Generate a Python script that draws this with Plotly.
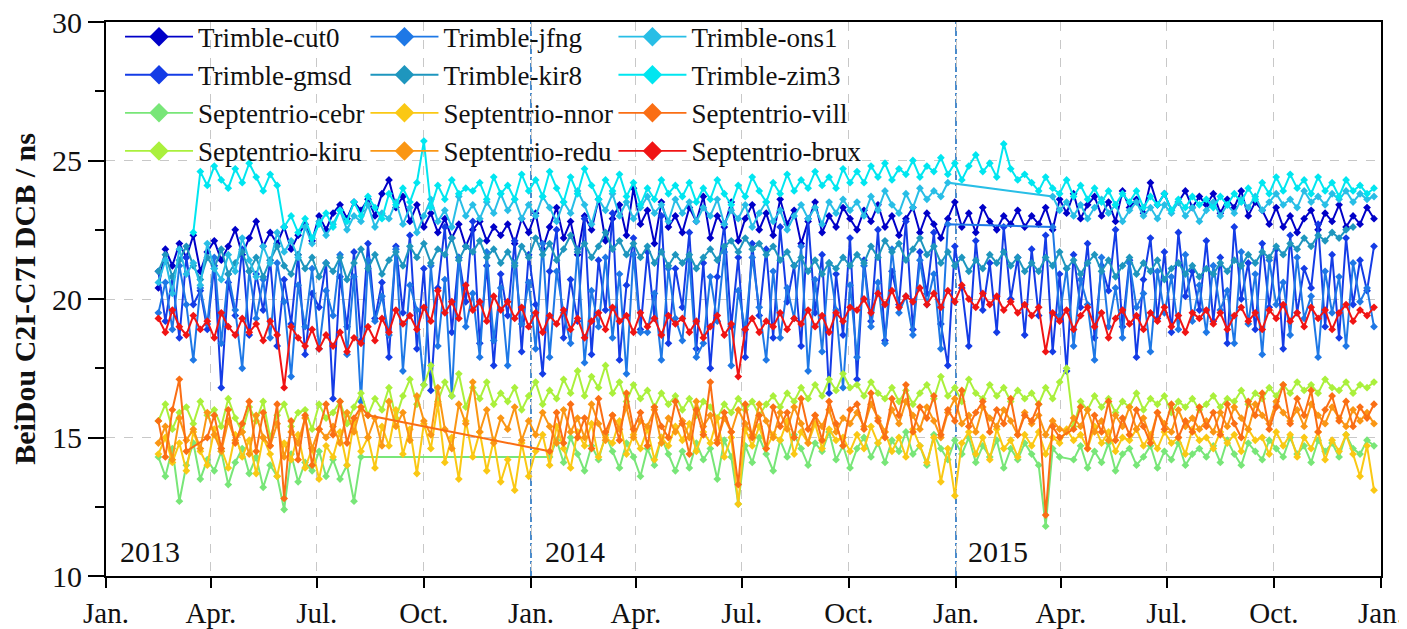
import pandas as pd
import plotly.graph_objects as go

N = None
# sampling: every 6 days from 2013-02-15, rows of 25 samples (150 days each)
start_date = "2013-02-15"
step_days = 6
row_days = 150

tick_dates = ["2013-01-01", "2013-04-01", "2013-07-01", "2013-10-01",
              "2014-01-01", "2014-04-01", "2014-07-01", "2014-10-01",
              "2015-01-01", "2015-04-01", "2015-07-01", "2015-10-01", "2016-01-01"]
tick_text = ["Jan.", "Apr.", "Jul.", "Oct."] * 3 + ["Jan."]
year_labels = ["2013", "2014", "2015"]
year_label_dates = ["2013-01-11", "2014-01-11", "2015-01-10"]
year_sep_dates = ["2014-01-01", "2015-01-01"]

cut0 = [
 [20.4,21.8,21.2,22.0,21.5,22.3,21.0,21.7,22.1,21.4,21.9,22.5,21.6,22.2,22.8,21.9,22.4,22.0,22.6,21.8,22.3,22.7,22.1,23.0,22.5],
 [23.1,23.4,22.9,23.5,23.2,23.6,23.0,23.8,24.3,23.3,23.7,22.8,23.4,22.6,23.1,22.4,22.9,22.2,22.7,21.9,22.5,22.8,22.1,22.6,22.3],
 [22.7,22.0,22.9,22.4,23.1,21.8,22.6,23.3,22.2,22.8,21.6,23.0,22.5,23.6,22.1,22.9,23.4,22.3,24.0,22.7,23.2,22.0,23.5,22.6,23.0],
 [22.4,23.3,22.8,23.7,22.2,23.0,22.6,23.5,22.1,22.9,23.4,22.5,23.1,22.3,23.6,22.7,23.2,22.0,22.8,23.5,22.4,23.0,22.6,23.3,22.9],
 [22.5,23.2,22.8,23.4,22.6,23.0,22.3,22.9,23.3,22.4,23.1,22.7,22.2,22.9,23.5,22.6,23.1,22.4,23.3,22.8,22.5,23.0,22.7,23.2,22.6],
 [23.0,22.7,23.3,22.5,23.6,23.1,23.8,22.9,23.4,23.7,23.0,23.5,22.8,23.9,23.3,23.6,23.1,24.2,23.4,23.8,23.2,23.5,23.9,23.3,23.7],
 [23.4,23.8,23.1,23.6,23.3,23.9,23.0,23.5,23.2,22.7,23.3,22.6,23.0,22.4,22.9,23.2,22.5,23.1,22.8,23.4,22.6,23.0,22.7,23.3,22.9],
]
gmsd = [
 [21.0,19.2,20.8,18.6,21.5,19.8,20.3,18.9,21.2,16.8,20.6,19.4,21.8,18.7,20.9,19.6,21.4,18.3,20.7,19.1,21.6,18.0,20.2,19.7,21.3],
 [16.4,20.8,19.0,21.7,18.5,22.0,19.3,20.6,17.9,21.9,19.5,22.3,18.2,21.1,16.7,20.4,22.6,18.8,21.5,19.9,22.8,18.4,21.2,17.6,20.9],
 [19.4,22.1,18.1,21.6,19.8,17.3,21.0,22.5,18.6,20.7,19.2,22.9,18.0,21.4,19.6,23.1,17.8,20.5,22.2,18.9,21.7,19.3,23.0,18.4,21.1],
 [19.7,22.4,18.2,21.3,17.5,20.8,22.7,19.0,21.5,17.9,22.0,19.4,21.8,18.6,22.6,19.9,21.2,18.3,22.9,19.5,21.6,16.6,20.9,18.7,22.2],
 [17.1,21.4,19.2,22.5,18.5,21.0,19.8,22.8,18.9,21.7,20.2,22.4,19.1,17.6,21.9,20.4,18.3,22.1,19.6,21.3,18.8,22.6,20.0,21.5,18.7],
 [21.8,19.4,22.3,18.1,20.9,17.4,21.6,19.7,22.0,18.6,21.2,20.3,22.5,19.0,21.4,17.9,20.7,22.2,19.3,21.7,18.8,22.4,20.1,21.0,19.6],
 [22.1,19.2,21.5,18.4,22.6,20.0,21.3,18.9,22.0,19.7,21.8,18.2,22.3,19.5,21.1,20.4,22.7,19.0,21.6,18.6,22.2,19.8,21.4,20.3,21.9],
]
jfng = [
 [19.5,20.6,18.9,21.2,19.8,17.8,20.4,19.1,21.5,18.4,20.9,19.6,17.5,21.0,19.3,20.7,18.6,21.3,19.9,17.2,20.5,19.0,21.1,18.2,20.3],
 [19.4,21.6,18.0,20.8,16.3,21.4,19.2,20.1,18.7,21.8,17.4,20.5,19.6,16.9,21.2,18.3,20.7,16.5,21.5,19.0,20.2,17.9,21.7,18.5,20.4],
 [17.6,21.3,19.1,20.6,18.2,22.0,17.9,21.0,19.5,18.4,21.8,17.7,20.3,19.0,21.5,18.6,20.9,17.3,21.6,18.8,18.8,20.2,17.8,21.1,19.3],
 [18.5,21.4,17.9,18.4,20.8,19.2,21.7,17.6,20.3,18.9,21.5,19.7,17.8,21.0,18.6,20.4,19.3,21.9,17.4,20.7,18.1,21.3,19.6,16.8,20.5],
 [17.9,21.2,19.0,20.6,18.4,21.8,19.5,20.1,18.7,21.4,19.8,20.9,18.2,22.7,N,N,N,N,N,N,N,N,N,N,N],
 [N,N,N,22.6,19.4,21.1,18.3,20.7,19.8,17.8,21.5,19.0,20.4,18.6,21.3,19.7,20.2,18.1,21.0,19.5,20.8,18.9,21.6,19.2,20.5],
 [18.8,21.2,19.6,20.3,18.4,21.7,19.1,20.9,18.0,21.4,19.8,20.6,18.7,21.5,19.3,20.1,17.9,21.0,19.5,20.8,18.3,21.3,19.9,20.4,19.0],
]
kir8 = [
 [21.0,21.6,20.8,21.4,21.9,21.2,20.7,21.5,21.1,21.8,20.9,21.3,21.7,21.0,21.5,20.8,21.4,21.9,21.2,20.9,21.6,21.1,21.5,20.8,21.3],
 [21.0,21.5,20.7,21.3,21.8,21.1,21.6,20.9,21.4,21.7,21.2,21.9,21.5,22.0,21.3,21.8,21.6,22.2,21.4,21.9,21.7,22.1,21.5,21.8,21.3],
 [21.7,21.2,21.9,21.5,22.2,21.6,22.0,21.4,21.8,22.3,21.7,22.0,21.5,21.9,22.4,21.8,22.1,21.6,22.0,21.5,21.9,21.3,21.7,21.2,21.6],
 [21.3,21.6,21.1,21.5,21.8,21.4,21.9,22.1,21.7,22.2,21.8,22.0,21.6,21.9,21.4,21.7,21.2,21.5,21.0,21.4,20.9,21.3,21.1,21.5,21.2],
 [21.6,21.3,21.9,21.5,22.1,21.7,22.0,21.4,21.8,22.2,21.6,21.9,21.3,21.7,21.2,21.5,21.0,21.4,21.1,21.6,21.3,21.7,21.2,21.5,21.0],
 [21.3,21.0,21.5,21.2,21.7,21.1,21.4,20.9,21.3,21.6,21.0,21.4,20.8,21.2,21.5,20.9,21.3,21.0,21.4,20.7,21.1,21.3,20.9,21.2,20.8],
 [21.1,20.9,21.3,21.0,21.4,21.2,21.6,21.3,21.7,21.5,21.9,21.6,22.0,21.8,22.2,21.9,22.3,22.1,22.4,22.2,22.5,22.6,N,N,N],
]
ons1 = [
 [20.6,21.4,20.2,21.8,20.9,21.3,20.5,22.0,21.1,20.7,21.6,21.0,22.2,21.4,20.8,21.9,21.3,22.4,21.7,22.1,21.5,22.6,22.0,22.8,22.3],
 [22.7,23.2,22.5,23.0,22.8,23.4,22.6,23.1,22.9,23.5,22.7,23.3,22.4,23.0,23.6,22.8,23.2,22.6,23.7,23.0,23.4,22.9,23.5,23.1,23.8],
 [23.2,23.6,22.9,23.4,23.0,23.7,23.3,22.8,23.5,23.1,23.9,23.4,22.7,23.6,23.2,23.8,23.0,23.5,22.9,23.3,23.7,23.1,23.4,22.8,23.6],
 [23.1,23.5,22.8,23.3,23.0,23.6,22.7,23.2,22.9,23.4,22.6,23.1,23.5,22.8,23.2,22.5,23.0,23.4,22.9,23.3,22.7,23.5,23.1,23.6,23.2],
 [23.5,23.0,23.7,23.2,23.9,23.4,23.1,23.8,23.3,24.0,23.6,23.9,23.7,24.2,N,N,N,N,N,N,N,N,N,N,N],
 [N,N,N,23.7,23.2,23.5,23.0,23.4,22.9,23.3,23.6,23.1,23.4,22.8,23.2,23.5,23.0,23.3,22.9,23.4,23.1,23.5,23.0,23.3,22.8],
 [23.2,23.5,23.0,23.4,23.1,23.6,23.3,23.7,23.2,23.5,23.8,23.4,23.6,23.3,23.9,23.5,23.7,23.4,23.8,23.6,23.9,23.5,23.8,23.6,23.7],
]
zim3 = [
 [N,N,N,N,N,22.4,24.6,24.1,24.8,24.3,24.0,24.7,24.2,24.9,24.4,23.9,24.5,24.1,22.6,23.0,22.4,22.9,22.2,22.7,23.1],
 [22.6,23.2,22.8,23.5,23.0,23.7,23.3,22.9,23.8,23.4,24.0,23.5,24.2,25.7,23.3,24.1,23.6,24.3,23.8,24.0,23.9,24.2,23.6,24.4,23.8],
 [24.1,23.6,24.5,23.9,24.3,23.7,24.6,24.0,23.5,24.4,23.8,24.7,24.1,23.6,24.3,23.9,24.5,23.7,24.2,23.4,24.0,23.6,24.3,23.8,24.1],
 [23.7,24.2,23.5,24.0,23.6,24.3,23.8,23.4,24.1,23.7,24.4,23.9,23.5,24.2,23.8,24.5,23.9,24.3,24.0,24.6,24.1,24.4,24.0,24.7,24.2],
 [24.6,24.2,24.8,24.4,24.9,24.3,24.7,24.5,25.0,24.4,24.8,24.6,25.1,24.5,24.9,24.3,24.8,25.2,24.6,24.9,24.4,25.6,24.7,24.3,24.5],
 [24.2,23.9,24.4,24.0,23.8,24.3,23.7,24.1,23.6,24.0,23.5,23.9,23.4,23.8,23.5,23.9,23.3,23.7,23.4,23.8,23.2,23.6,23.3,23.7,23.4],
 [23.6,23.3,23.7,23.4,23.8,23.5,24.0,23.6,24.2,23.8,24.4,23.9,24.5,24.0,24.3,23.8,24.4,23.9,24.2,23.7,24.3,23.9,24.1,23.8,24.0],
]
cebr = [
 [14.3,13.6,14.6,12.7,14.0,14.8,13.5,14.2,13.8,14.5,13.3,14.1,14.6,13.7,14.3,13.2,14.0,13.6,12.4,14.4,13.4,14.1,13.8,14.5,13.6],
 [14.2,13.5,14.0,12.7,14.3,N,N,N,N,N,N,N,N,N,N,N,N,N,N,N,N,N,N,N,N],
 [N,N,N,N,N,N,14.3,14.9,14.1,15.0,14.4,13.8,14.7,14.2,15.1,14.5,13.9,14.8,14.3,13.6,14.6,14.0,15.0,14.4,13.8],
 [14.5,13.9,14.8,14.2,14.6,13.5,14.9,14.3,12.6,14.7,14.1,15.0,14.4,13.8,14.9,14.3,15.1,14.6,14.0,14.8,14.5,15.2,14.2,14.7,13.9],
 [14.6,15.0,14.3,14.8,14.1,14.9,14.5,15.2,14.4,14.7,14.0,15.1,14.6,14.2,14.9,14.4,15.0,14.1,14.7,14.3,14.9,13.9,14.6,14.2,14.8],
 [14.4,14.0,11.8,14.6,14.3,N,14.2,14.7,13.9,14.5,14.1,14.8,13.8,14.4,14.6,14.0,14.3,14.7,13.9,14.5,14.2,14.8,14.0,14.4,14.6],
 [14.3,14.7,14.1,14.9,14.4,14.0,14.8,14.5,14.2,14.9,14.6,14.3,15.0,14.4,14.7,14.1,14.9,14.5,14.8,14.3,15.1,14.6,14.4,14.9,14.7],
]
kiru = [
 [15.6,16.2,15.3,15.9,16.1,15.5,16.3,15.8,16.0,15.4,16.4,15.7,15.2,16.1,15.6,16.3,15.0,15.8,16.2,15.4,15.9,16.0,15.3,16.2,15.7],
 [15.9,16.3,15.5,16.1,16.6,15.8,16.4,16.0,16.8,15.7,16.5,17.1,16.2,16.9,17.6,16.3,17.0,16.5,17.3,16.1,16.8,16.4,17.0,16.2,16.6],
 [16.3,16.8,16.0,16.5,17.0,16.2,16.7,16.4,17.1,16.6,17.4,16.5,17.2,16.8,17.6,16.6,17.0,16.3,16.9,16.4,16.7,16.1,16.6,16.2,16.5],
 [16.0,16.4,15.8,16.3,16.1,15.7,16.2,15.9,16.4,16.0,16.3,15.8,16.2,16.5,16.1,16.6,16.3,16.8,16.4,16.9,16.5,17.1,16.7,17.3,16.8],
 [16.9,16.5,17.0,16.6,16.4,16.8,16.3,16.7,16.2,16.6,16.9,16.4,17.2,16.5,16.8,16.3,17.1,16.6,16.4,16.9,16.5,16.8,16.3,16.7,16.4],
 [16.6,16.2,16.8,16.4,17.0,17.5,15.4,16.3,16.0,16.5,16.1,16.4,15.9,16.3,16.1,16.6,16.0,16.4,16.2,16.5,15.9,16.3,16.1,16.4,16.0],
 [16.2,16.5,16.1,16.4,16.3,16.7,16.2,16.6,16.4,16.8,16.5,16.9,16.6,17.0,16.7,16.9,16.6,17.1,16.8,16.7,17.0,16.6,16.9,16.8,17.0],
]
nnor = [
 [14.4,15.0,14.1,14.8,13.8,15.2,14.5,14.0,15.3,14.6,13.9,15.1,14.3,14.9,13.7,15.0,14.4,13.6,14.8,14.2,15.1,13.9,14.6,13.5,14.7],
 [14.3,15.2,14.0,15.6,14.5,15.0,13.9,15.4,14.7,16.0,14.4,15.3,13.7,15.5,14.6,16.2,14.1,15.0,13.5,15.6,14.3,15.2,13.8,14.9,13.4],
 [14.2,13.1,14.8,13.6,14.5,15.1,14.0,15.4,14.6,13.9,15.2,14.7,15.5,14.3,15.0,14.8,15.6,14.4,15.1,14.6,15.3,14.2,15.0,14.7,15.4],
 [14.9,15.5,14.5,15.2,14.8,15.7,14.3,15.0,12.6,15.3,14.7,15.4,14.6,15.1,14.9,15.6,14.4,15.2,14.8,15.5,14.6,15.3,14.9,15.0,14.5],
 [15.1,14.6,15.4,14.8,15.2,14.5,15.0,14.3,15.3,14.7,14.1,15.0,13.4,14.6,12.9,14.8,15.2,14.4,15.0,14.2,15.3,14.6,14.9,14.3,15.1],
 [14.7,15.2,14.4,15.0,14.8,15.3,14.9,15.1,14.6,15.4,14.8,15.2,14.5,15.0,14.9,15.3,14.7,15.1,14.6,15.2,14.8,15.0,14.4,15.3,14.9],
 [15.0,14.6,15.2,14.8,15.1,14.5,15.3,14.9,15.0,14.4,15.2,14.7,15.1,14.3,15.0,14.6,15.2,14.2,14.9,14.5,15.1,14.4,13.6,14.7,13.1],
]
redu = [
 [14.8,15.4,14.2,15.7,14.9,15.3,14.6,15.9,15.1,14.5,15.6,14.9,15.2,14.4,15.8,15.0,14.7,15.5,14.3,15.2,14.8,15.7,14.6,15.3,15.0],
 [15.4,14.8,15.9,15.2,16.1,15.0,15.7,14.7,16.3,15.4,15.9,14.9,16.5,15.6,15.1,16.8,15.3,14.6,16.2,15.5,17.0,15.2,16.0,14.8,15.7],
 [15.3,16.1,14.9,15.6,15.1,15.9,15.4,14.8,16.0,15.2,15.7,15.0,16.2,15.5,14.9,15.8,15.3,16.1,15.0,15.6,15.4,16.0,14.8,15.7,15.2],
 [15.6,15.0,16.3,15.4,15.8,14.9,15.7,15.2,16.0,15.5,15.1,16.2,15.6,15.0,15.9,15.3,16.1,15.5,14.8,15.8,15.4,16.0,15.2,15.7,15.5],
 [15.9,15.4,16.2,15.7,15.2,16.0,15.5,16.3,15.8,15.3,16.1,15.6,15.0,15.9,16.4,15.5,15.8,15.2,16.1,15.7,15.4,16.0,15.6,15.1,15.9],
 [15.5,15.8,15.1,15.6,15.3,15.2,15.7,15.4,16.0,15.2,15.6,14.9,15.8,15.4,16.1,15.3,15.7,15.0,15.9,15.5,15.2,16.0,15.4,15.7,15.3],
 [15.6,15.2,15.9,15.4,16.1,15.7,15.3,16.2,15.8,15.5,16.3,15.9,15.6,16.0,15.4,16.2,15.8,15.5,16.1,15.7,15.4,16.0,15.6,15.9,15.5],
]
vill = [
 [15.6,14.3,16.0,17.1,14.5,N,N,15.0,15.8,14.6,16.0,14.8,15.5,16.3,14.5,15.9,14.7,16.2,12.8,15.6,14.2,15.8,14.0,15.3,16.2],
 [15.1,16.3,14.8,15.7,16.1,15.8,N,N,N,N,N,N,N,N,N,N,N,N,N,N,N,N,N,N,N],
 [N,N,N,N,N,N,14.5,15.9,14.8,16.2,15.0,15.7,14.6,16.4,15.2,15.8,14.9,16.6,15.3,15.9,14.7,16.1,15.4,15.0,16.3],
 [15.5,14.4,16.0,15.1,17.0,14.8,15.9,15.2,13.3,16.2,15.0,15.8,14.6,16.1,15.4,15.9,15.0,16.4,15.3,15.8,14.9,16.3,15.5,14.7,16.0],
 [16.2,15.3,16.6,15.6,15.0,16.4,15.8,16.9,15.2,16.1,15.7,16.5,15.1,16.0,15.6,16.7,15.4,15.9,16.3,15.2,16.0,15.5,16.4,15.1,15.8],
 [15.6,16.2,12.2,15.4,15.0,N,15.3,16.1,14.6,15.8,15.2,16.3,14.9,15.7,15.1,16.0,15.4,14.8,15.9,15.3,16.2,15.0,15.6,15.2,16.1],
 [15.4,15.9,15.1,16.2,15.5,15.0,16.3,15.8,16.6,15.3,16.1,16.9,15.5,16.4,15.8,16.7,15.2,16.0,16.5,15.6,16.3,15.4,16.1,15.7,16.2],
]
brux = [
 [19.3,18.8,19.6,19.0,18.7,19.4,18.9,19.2,18.6,19.5,19.0,18.7,19.3,18.8,19.1,18.5,19.2,18.7,16.8,19.0,18.6,18.3,18.9,18.2,18.7],
 [18.3,18.8,18.1,18.6,18.4,19.0,18.5,19.3,18.8,19.6,19.1,19.4,18.9,19.7,19.2,20.3,19.5,19.9,19.3,20.5,19.6,19.9,19.2,20.1,19.6],
 [19.9,19.3,19.7,19.0,19.5,18.8,19.4,19.1,19.6,18.9,19.3,18.6,19.2,19.5,18.9,19.7,19.2,19.4,18.8,19.5,19.0,19.3,18.7,19.4,19.1],
 [19.3,18.8,19.2,18.6,19.0,19.4,18.7,19.1,17.2,18.9,19.3,18.8,19.2,19.0,19.5,18.9,19.3,19.1,19.6,19.0,19.4,18.8,19.5,19.2,19.7],
 [19.6,20.0,19.5,20.2,19.8,20.3,19.7,20.1,19.9,20.4,19.8,20.2,19.7,20.3,19.9,20.5,20.0,19.7,20.2,19.8,20.1,19.6,19.9,19.5,19.8],
 [19.4,19.7,18.1,19.5,19.2,19.6,18.9,19.4,19.7,19.0,19.5,18.6,19.3,19.6,19.1,19.4,18.9,19.5,19.2,19.7,19.0,19.4,18.8,19.5,19.3],
 [19.6,19.1,19.5,18.9,19.4,19.7,19.2,19.5,18.9,19.6,19.3,19.8,19.2,19.5,19.0,19.7,19.3,19.6,18.9,19.5,19.8,19.2,19.6,19.4,19.7],
]

# (name, rows, color, legend) in the original drawing order
series = [
    ("Trimble-cut0", cut0, "#0000c8", "legend"),
    ("Trimble-gmsd", gmsd, "#143ce6", "legend"),
    ("Trimble-jfng", jfng, "#1e78e6", "legend2"),
    ("Trimble-kir8", kir8, "#1e96be", "legend2"),
    ("Trimble-ons1", ons1, "#28bee6", "legend3"),
    ("Trimble-zim3", zim3, "#00e6f0", "legend3"),
    ("Septentrio-cebr", cebr, "#78e678", "legend"),
    ("Septentrio-kiru", kiru, "#aaf03c", "legend"),
    ("Septentrio-nnor", nnor, "#fac814", "legend2"),
    ("Septentrio-redu", redu, "#fa9614", "legend2"),
    ("Septentrio-vill", vill, "#fa6e14", "legend3"),
    ("Septentrio-brux", brux, "#f01414", "legend3"),
]

t0 = pd.Timestamp(start_date)

def flatten(rows):
    xs, ys = [], []
    for r, row in enumerate(rows):
        for j, v in enumerate(row):
            xs.append(t0 + pd.Timedelta(days=row_days * r + step_days * j))
            ys.append(v)
    return xs, ys

FONT = "Liberation Serif"
fig = go.Figure()
for name, rows, color, leg in series:
    xs, ys = flatten(rows)
    fig.add_trace(go.Scatter(
        x=xs, y=ys, name=name, mode="lines+markers", connectgaps=True,
        line=dict(color=color, width=2),
        marker=dict(symbol="diamond", size=6, color=color),
        showlegend=False,
    ))
# legend entries (no data drawn)
for name, rows, color, leg in series:
    fig.add_trace(go.Scatter(
        x=[None], y=[None], name=name, mode="lines+markers",
        line=dict(color=color, width=1.8),
        marker=dict(symbol="diamond", size=15, color=color),
        legend=leg, legendgroup=name, showlegend=True,
    ))

legend_common = dict(
    bgcolor="rgba(0,0,0,0)", borderwidth=0,
    itemwidth=68, tracegroupgap=0, yanchor="top", y=1.017, xanchor="left",
    font=dict(family=FONT, size=27, color="#111"),
)
# page body adds an 8 px offset; figure sized to fit inside the window
fig.update_layout(
    width=1399, height=621,
    margin=dict(l=98, r=26, t=14, b=53, autoexpand=False),
    paper_bgcolor="white", plot_bgcolor="white",
    legend=dict(x=0.011, **legend_common),
    legend2=dict(x=0.2035, **legend_common),
    legend3=dict(x=0.398, **legend_common),
    showlegend=True,
)

fig.update_xaxes(
    type="date", range=[tick_dates[0], tick_dates[-1]], automargin=False,
    tickmode="array", tickvals=tick_dates, ticktext=tick_text, ticklabeloverflow="allow",
    ticks="outside", ticklen=10, tickwidth=2, tickcolor="black",
    showline=True, linecolor="black", linewidth=2, mirror=True,
    showgrid=True, gridcolor="#c8c8c8", griddash="dash", gridwidth=1,
    tickfont=dict(family=FONT, size=29, color="#111"), zeroline=False,
)
fig.update_yaxes(
    range=[10, 30], tickmode="array", tickvals=[10, 15, 20, 25, 30], automargin=False,
    ticklabeloverflow="allow",
    ticks="outside", ticklen=16, tickwidth=2, tickcolor="black",
    minor=dict(tickmode="array", tickvals=[12.5, 17.5, 22.5, 27.5],
               ticks="outside", ticklen=9, tickwidth=2, tickcolor="black", showgrid=False),
    showline=True, linecolor="black", linewidth=2, mirror=True,
    showgrid=True, gridcolor="#c8c8c8", griddash="dash", gridwidth=1,
    tickfont=dict(family=FONT, size=30, color="#111"), zeroline=False,
    title=dict(text="<b>BeiDou C2I-C7I DCB / ns</b>", font=dict(family=FONT, size=30, color="#111"), standoff=8),
)

for d in year_sep_dates:
    fig.add_shape(type="line", xref="x", yref="paper", x0=d, x1=d, y0=0, y1=1,
                  line=dict(color="#1f6fbf", width=1.6, dash="dashdot"), layer="below")

for lab, d in zip(year_labels, year_label_dates):
    fig.add_annotation(x=d, y=10.9, xref="x", yref="y", text=lab, showarrow=False,
                       xanchor="left", yanchor="middle",
                       font=dict(family=FONT, size=30, color="#111"))

fig.write_html("out.html")
